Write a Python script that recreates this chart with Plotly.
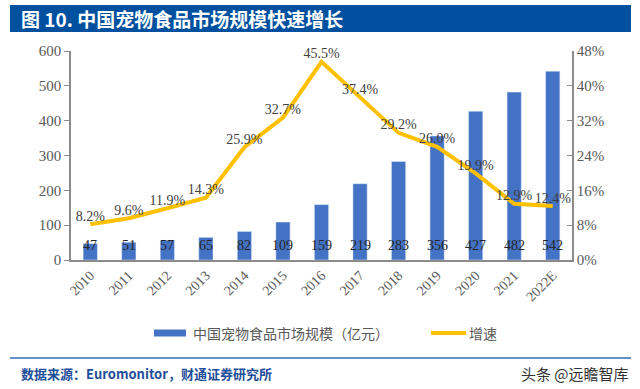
import plotly.graph_objects as go

years = ["2010", "2011", "2012", "2013", "2014", "2015", "2016", "2017", "2018", "2019", "2020", "2021", "2022E"]
market_size = [47, 51, 57, 65, 82, 109, 159, 219, 283, 356, 427, 482, 542]
growth = [8.2, 9.6, 11.9, 14.3, 25.9, 32.7, 45.5, 37.4, 29.2, 26.0, 19.9, 12.9, 12.4]
left_ticks = [0, 100, 200, 300, 400, 500, 600]
right_ticks = [0, 8, 16, 24, 32, 40, 48]

W, H = 640, 389
L, R, T, B = 71, 68, 51, 129
pw, ph = W - L - R, H - T - B

def px_x(px):
    return (px - L) / pw

def px_y(py):
    return (H - B - py) / ph

serif = "Liberation Serif"
cjk = "Noto Sans CJK SC"
gray = "#595959"
axis_gray = "#8c8c8c"
idx = list(range(len(years)))

fig = go.Figure()
fig.add_trace(go.Bar(
    x=idx, y=market_size, name="中国宠物食品市场规模（亿元）",
    marker_color="#4472C4", width=0.37, yaxis="y",
))
fig.add_trace(go.Scatter(
    x=idx, y=growth, name="增速", mode="lines+text",
    line=dict(color="#FFC000", width=4),
    text=[f"{g:.1f}%" for g in growth], textposition="top center",
    textfont=dict(family=serif, size=14, color="#404040"),
    yaxis="y2", cliponaxis=False,
))

annotations = []
for i, v in zip(idx, market_size):
    annotations.append(dict(
        x=i, y=43, xref="x", yref="y", text=str(v), showarrow=False,
        font=dict(family=serif, size=14, color="#262626"),
    ))

annotations.append(dict(
    x=px_x(19), y=px_y(18.5), xref="paper", yref="paper", xanchor="left", yanchor="middle",
    text="<b>图 10. 中国宠物食品市场规模快速增长</b>", showarrow=False,
    font=dict(family=cjk, size=19, color="white"),
))
annotations.append(dict(
    x=px_x(19), y=px_y(373), xref="paper", yref="paper", xanchor="left", yanchor="middle",
    text="<b>数据来源：Euromonitor，财通证券研究所</b>", showarrow=False,
    font=dict(family=cjk, size=13, color="#1F4E9A"),
))
annotations.append(dict(
    x=px_x(631), y=px_y(373), xref="paper", yref="paper", xanchor="right", yanchor="middle",
    text="头条 @远瞻智库", showarrow=False,
    font=dict(family=cjk, size=15, color="#333333"),
))
# manual legend texts
annotations.append(dict(
    x=px_x(191), y=px_y(333), xref="paper", yref="paper", xanchor="left", yanchor="middle",
    text="中国宠物食品市场规模（亿元）", showarrow=False,
    font=dict(family=cjk, size=14, color=gray),
))
annotations.append(dict(
    x=px_x(467), y=px_y(333), xref="paper", yref="paper", xanchor="left", yanchor="middle",
    text="增速", showarrow=False,
    font=dict(family=cjk, size=14, color=gray),
))

shapes = [
    dict(type="rect", xref="paper", yref="paper",
         x0=px_x(10), x1=px_x(631), y0=px_y(32), y1=px_y(5),
         fillcolor="#0050A0", line=dict(width=0), layer="below"),
    dict(type="line", xref="paper", yref="paper",
         x0=px_x(10), x1=px_x(631), y0=px_y(358), y1=px_y(358),
         line=dict(color="#2E6DB5", width=1.5)),
    dict(type="rect", xref="paper", yref="paper",
         x0=px_x(154), x1=px_x(186), y0=px_y(336.5), y1=px_y(329.5),
         fillcolor="#4472C4", line=dict(width=0)),
    dict(type="line", xref="paper", yref="paper",
         x0=px_x(431), x1=px_x(466), y0=px_y(333), y1=px_y(333),
         line=dict(color="#FFC000", width=4)),
]

fig.update_layout(
    width=W, height=H,
    margin=dict(l=L, r=R, t=T, b=B),
    paper_bgcolor="white", plot_bgcolor="white",
    showlegend=False,
    xaxis=dict(range=[-0.5, len(years) - 0.5], tickvals=idx, ticktext=years, tickangle=-45,
               showgrid=False, showline=True, zeroline=False,
               linecolor=axis_gray, linewidth=1.5, ticks="",
               tickfont=dict(family=serif, size=14, color=gray)),
    yaxis=dict(range=[0, 600], tickvals=left_ticks, showgrid=False, showline=True,
               linecolor=axis_gray, linewidth=1.5, ticks="outside", ticklen=5, tickcolor=axis_gray,
               tickfont=dict(family=serif, size=15, color=gray), zeroline=False),
    yaxis2=dict(range=[0, 48], tickvals=right_ticks, ticktext=[f"{t}%" for t in right_ticks],
                overlaying="y", side="right", showgrid=False, showline=True,
                linecolor=axis_gray, linewidth=1.5, ticks="inside", ticklen=5, tickcolor=axis_gray,
                tickfont=dict(family=serif, size=15, color=gray), zeroline=False),
    annotations=annotations,
    shapes=shapes,
)

fig.write_html("out.html")
